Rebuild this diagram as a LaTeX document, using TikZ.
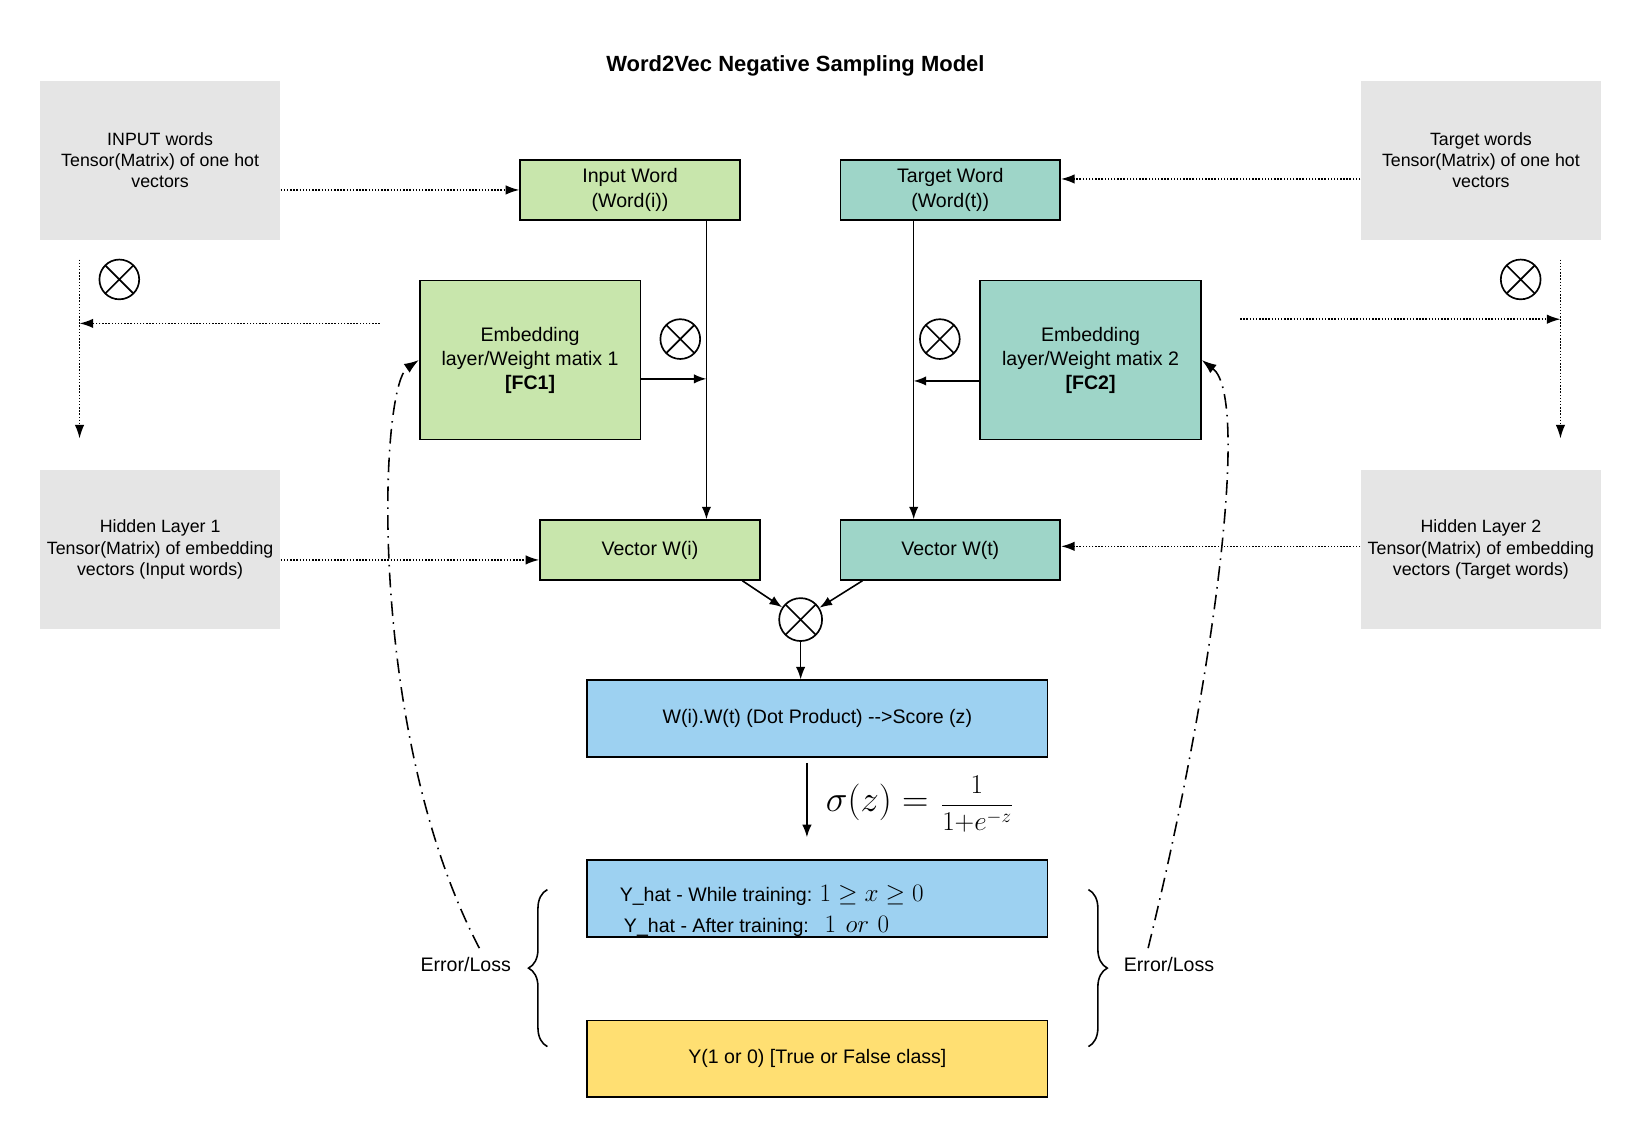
\documentclass[tikz,border=0pt]{standalone}
\usepackage{fix-cm}
\usepackage{fontspec}
\setmainfont{Liberation Sans}
\usetikzlibrary{arrows.meta,decorations.pathreplacing,calc}
\definecolor{cgray}{RGB}{229,229,229}
\definecolor{cgreen}{RGB}{200,230,172}
\definecolor{cteal}{RGB}{158,213,200}
\definecolor{cblue}{RGB}{157,209,241}
\definecolor{cyellow}{RGB}{255,223,114}
\newcommand\fsGray{\fontsize{17}{20.5}\selectfont}
\newcommand\fsBox{\fontsize{18.7}{23}\selectfont}
\tikzset{
  graybox/.style={fill=cgray, draw=none, minimum width=230pt, minimum height=152pt, align=center, font=\fsGray, inner sep=0pt},
  colbox/.style={draw=black, line width=1.6pt, align=center, font=\fsBox, inner sep=0pt},
  smallbox/.style={colbox, minimum width=210pt, minimum height=57pt},
  bigbox/.style={colbox, minimum width=211pt, minimum height=152pt},
  widebox/.style={colbox, minimum width=440pt, minimum height=73pt},
  otimes/.style={circle, draw=black, line width=1.6pt, minimum size=38pt, inner sep=0pt, fill=white,
    path picture={\draw[line width=1.6pt] (path picture bounding box.north west) -- (path picture bounding box.south east)
      (path picture bounding box.north east) -- (path picture bounding box.south west);}},
  arr/.style={line width=1.5pt, -{Latex[length=12pt,width=9pt]}},
  dotarr/.style={line width=1.4pt, dash pattern=on 1.4pt off 1.6pt, -{Latex[length=13pt,width=9pt]}},
  dasharr/.style={line width=1.5pt, dash pattern=on 14pt off 6pt on 1.5pt off 6pt, -{Latex[length=14pt,width=10pt]}},
  lbl/.style={font=\fsBox, inner sep=0pt},
  bracestyle/.style={line width=1.5pt, decorate, decoration={brace, amplitude=18pt, aspect=0.5}}
}
\begin{document}
\begin{tikzpicture}[x=1pt,y=-1pt]
\useasboundingbox (0,0) rectangle (1567,1086.5);

% title
\node[font=\fontsize{21}{25}\selectfont\bfseries] (title) at (760,63) {Word2Vec Negative Sampling Model};

% gray boxes
\node[graybox] (gin) at (153,153) {INPUT words\\Tensor(Matrix) of one hot\\vectors};
\node[graybox] (gtg) at (1415,153) {Target words\\Tensor(Matrix) of one hot\\vectors};
\node[graybox] (gh1) at (153,525) {Hidden Layer 1\\Tensor(Matrix) of embedding\\vectors (Input words)};
\node[graybox] (gh2) at (1415,525) {Hidden Layer 2\\Tensor(Matrix) of embedding\\vectors (Target words)};

% coloured boxes
\node[smallbox, fill=cgreen] (inw) at (602,181.5) {Input Word\\(Word(i))};
\node[smallbox, fill=cteal] (tgw) at (908,181.5) {Target Word\\(Word(t))};
\node[bigbox, fill=cgreen] (emb1) at (506.5,344) {Embedding\\layer/Weight matix 1\\\textbf{[FC1]}};
\node[bigbox, fill=cteal] (emb2) at (1042,344) {Embedding\\layer/Weight matix 2\\\textbf{[FC2]}};
\node[smallbox, fill=cgreen] (vwi) at (621,525.5) {Vector W(i)};
\node[smallbox, fill=cteal] (vwt) at (908,525.5) {Vector W(t)};
\node[widebox, fill=cblue] (dot) at (781,686.5) {W(i).W(t) (Dot Product) -{}-{}>Score (z)};
\node[widebox, fill=cblue] (yhat) at (781,858.5) {};
\node[widebox, fill=cyellow] (ybox) at (781,1011.5) {Y(1 or 0) [True or False class]};

% Y_hat text lines
\node[lbl, anchor=base west] (yl1) at (592,861) {Y\_hat - While training: {\fontsize{24}{28}\selectfont$1 \geq x \geq 0$}};
\node[lbl, anchor=base west] (yl2) at (596,891) {Y\_hat - After training:\hspace{15pt}{\fontsize{24}{28}\selectfont$1\hspace{9pt}or\hspace{8pt}0$}};

% otimes symbols
\node[otimes] (ox1) at (114,267) {};
\node[otimes] (ox2) at (650,324) {};
\node[otimes] (ox3) at (898,324) {};
\node[otimes] (ox4) at (1453,267) {};
\node[otimes, minimum size=41pt] (ox5) at (765,592) {};

% helper coordinates
\coordinate (xL) at (675,0);
\coordinate (xR) at (873,0);
\coordinate (lvTop) at (76,248);
\coordinate (lvBot) at (76,419);
\coordinate (lhStart) at (363,309);
\coordinate (rvTop) at (1491,248);
\coordinate (rvBot) at (1491,419);
\coordinate (rhStart) at (1185,305);
\coordinate (sigEnd) at (771,800);
\coordinate (e1y) at (0,362);
\coordinate (e2y) at (0,364);
\path ([yshift=10.5pt]tgw.east) coordinate (tgIn);
\path ([yshift=-9.5pt]vwi.west) coordinate (h1In);
\path ([yshift=3.5pt]vwt.east) coordinate (h2In);

% dotted connectors
\draw[dotarr] (gin.east |- inw.west) -- (inw.west);
\draw[dotarr] (tgIn -| gtg.west) -- (tgIn);
\draw[dotarr] (h1In -| gh1.east) -- (h1In);
\draw[dotarr] (h2In -| gh2.west) -- (h2In);
\draw[dotarr] (lvTop) -- (lvBot);
\draw[dotarr] (lhStart) -- (lhStart -| lvTop);
\draw[dotarr] (rvTop) -- (rvBot);
\draw[dotarr] (rhStart) -- (rhStart -| rvTop);

% solid connectors
\draw[arr] (inw.south -| xL) -- (vwi.north -| xL);
\draw[arr] (emb1.east |- e1y) -- (xL |- e1y);
\draw[arr] (tgw.south -| xR) -- (vwt.north -| xR);
\draw[arr] (emb2.west |- e2y) -- (xR |- e2y);
\draw[arr] ($(vwi.south west)+(194,0)$) -- (ox5);
\draw[arr] ($(vwt.south west)+(22,0)$) -- (ox5);
\draw[arr] (ox5.south) -- (dot.north -| ox5.south);
\draw[arr] ($(dot.south -| sigEnd)+(0,5)$) -- (sigEnd);

% sigmoid formula
\node[inner sep=0pt, anchor=west] (sig) at (789,768) {\fontsize{35}{40}\selectfont$\sigma(z) = $\hspace{12pt}{\fontsize{26}{31}\selectfont$\displaystyle\frac{1}{1{+}e^{-z}}$}};

% braces and labels
\draw[bracestyle] (523,1000) -- (523,850);
\draw[bracestyle] (1040,850) -- (1040,1000);
\node[lbl] (errL) at (445,922) {Error/Loss};
\node[lbl] (errR) at (1117,922) {Error/Loss};

% dash-dot feedback curves
\draw[dasharr] (errL.north) ++(13,-9) coordinate (cl0) (cl0) .. controls (350,700) and (362,370) .. (emb1.west);
\draw[dasharr] (errR.north) ++(-20,-9) coordinate (cr0) (cr0) .. controls (1160,650) and (1195,380) .. (emb2.east);
\end{tikzpicture}
\end{document}
